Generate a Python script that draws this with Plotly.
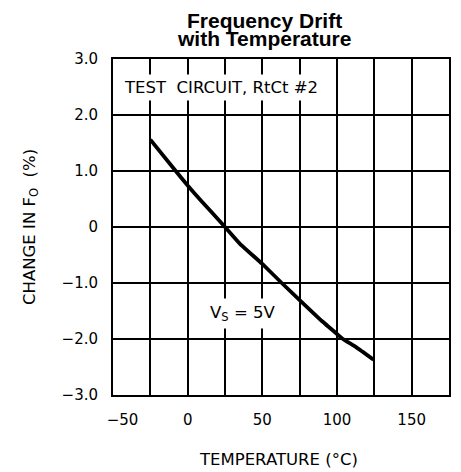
import plotly.graph_objects as go

temp_c = [-25, -8, 0, 9, 25, 35, 50, 63, 89.5, 100, 104, 113, 124.5]
change_pct = [1.56, 1.0, 0.74, 0.47, 0.0, -0.30, -0.66, -1.0, -1.67, -1.91, -2.0, -2.15, -2.37]

x_tickvals = [-50, 0, 50, 100, 150]
x_ticktext = ["\u00a0\u00a0\u00a0\u00a0\u221250", "0", "50", "100", "150"]
y_tickvals = [3, 2, 1, 0, -1, -2, -3]
y_ticktext = ["3.0", "2.0", "1.0", "0", "\u22121.0", "\u22122.0", "\u22123.0"]

title_lines = ["Frequency Drift", "with Temperature"]
x_title = "TEMPERATURE (\u00b0C)"
y_title = "CHANGE IN F<sub>O</sub>\u00a0\u00a0(%)"
note_circuit = "TEST\u00a0 CIRCUIT, RtCt #2"
note_vs = "V<sub>S</sub> = 5V"

font_fam = "DejaVu Sans"

fig = go.Figure()
fig.add_trace(go.Scatter(x=temp_c, y=change_pct, mode="lines",
                         line=dict(color="black", width=3.8, shape="spline", smoothing=0.3),
                         showlegend=False, hoverinfo="skip"))

fig.update_layout(
    width=461, height=472,
    margin=dict(l=113, r=12, t=59, b=77),
    paper_bgcolor="white", plot_bgcolor="white",
    font=dict(family=font_fam, color="black", size=15),
    xaxis=dict(range=[-50, 175], tickvals=x_tickvals, ticktext=x_ticktext,
               showgrid=True, gridcolor="black", gridwidth=2,
               minor=dict(dtick=25, tick0=-50, showgrid=True, gridcolor="black", gridwidth=2),
               showline=True, linecolor="black", linewidth=2, mirror=True,
               ticks="", ticklabelstandoff=10, zeroline=False, automargin=False,
               tickfont=dict(size=15, family=font_fam)),
    yaxis=dict(range=[-3, 3], tickvals=y_tickvals, ticktext=y_ticktext,
               showgrid=True, gridcolor="black", gridwidth=2,
               showline=True, linecolor="black", linewidth=2, mirror=True,
               ticks="", ticklabelstandoff=10, zeroline=False, automargin=False,
               tickfont=dict(size=15, family=font_fam)),
)

# title (two tight lines)
for line, ys in zip(title_lines, [39, 21]):
    fig.add_annotation(x=0.45, y=1, xref="paper", yref="paper", xanchor="center",
                       yanchor="middle", yshift=ys, text="<b>" + line + "</b>",
                       showarrow=False,
                       font=dict(family="Liberation Sans", size=21, color="black"))

# axis titles
fig.add_annotation(x=0.5, y=0, xref="paper", yref="paper", xanchor="center",
                   yanchor="middle", xshift=-3, yshift=-64, text=x_title, showarrow=False,
                   font=dict(size=16.5, family=font_fam))
fig.add_annotation(x=0, y=0, xref="paper", yref="y", xanchor="center",
                   yanchor="middle", xshift=-83, text=y_title, textangle=-90,
                   showarrow=False, font=dict(size=16.5, family=font_fam))

# in-plot notes with white boxes
fig.add_annotation(x=-50, y=2.5, xref="x", yref="y", xanchor="left", yanchor="middle",
                   text=note_circuit, showarrow=False,
                   bgcolor="white", borderpad=3, xshift=7,
                   font=dict(size=16.5, family=font_fam))
fig.add_annotation(x=37, y=-1.55, xref="x", yref="y", xanchor="center", yanchor="middle",
                   text=note_vs, showarrow=False,
                   bgcolor="white", borderpad=4,
                   font=dict(size=16.5, family=font_fam))

fig.write_html("out.html", config={"displayModeBar": False},
               post_script="document.body.style.margin='0';document.body.style.overflow='hidden';")
